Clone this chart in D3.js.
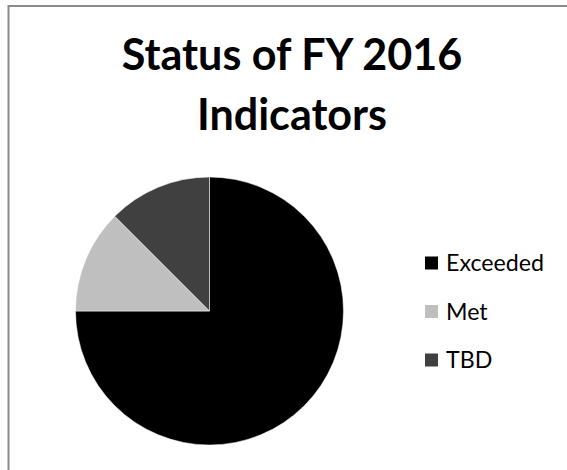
<!DOCTYPE html>
<html>
<head>
<meta charset="utf-8">
<script src="https://cdn.jsdelivr.net/npm/d3@7"></script>
<style>
  html, body { margin: 0; padding: 0; background: #fff; }
  svg { display: block; }
</style>
</head>
<body>
<svg id="chart" width="567" height="470"></svg>
<script>
const titleLines = ["Status of FY 2016", "Indicators"];
const categories = ["Exceeded", "Met", "TBD"];
const values = [75, 12.5, 12.5];
const colors = ["#000000", "#bfbfbf", "#404040"];

const svg = d3.select("#chart");
const W = 567, H = 470;
const FONT = "Lato, 'Open Sans', sans-serif";

svg.append("rect").attr("x", 0).attr("y", 0).attr("width", W).attr("height", H).attr("fill", "#fff");

// chart border (only top and left visible)
svg.append("path")
  .attr("d", "M8.5,470 V6 H567")
  .attr("fill", "none").attr("stroke", "#8a8a8a").attr("stroke-width", 2);

// title
const titleX = 292;
const titleBaselines = [70, 130];
const titleWidths = [339, 191];
const title = svg.append("g");
titleLines.forEach((t, i) => {
  const txt = title.append("text")
    .attr("x", titleX).attr("y", titleBaselines[i])
    .attr("text-anchor", "middle")
    .attr("font-family", FONT).attr("font-weight", "bold")
    .attr("font-size", 38).attr("fill", "#000")
    .text(t);
  const w = txt.node().getComputedTextLength();
  if (w > 0) txt.attr("font-size", 38 * titleWidths[i] / w);
});
// use a common size for both lines (average of fitted sizes)
const sizes = title.selectAll("text").nodes().map(n => +n.getAttribute("font-size"));
const common = d3.mean(sizes);
title.selectAll("text").attr("font-size", common);

// pie
const cx = 209.5, cy = 311, r = 134;
const color = d3.scaleOrdinal().domain(categories).range(colors);
const pie = d3.pie().sort(null).value(d => d.value);
const arc = d3.arc().innerRadius(0).outerRadius(r);
const data = categories.map((c, i) => ({ name: c, value: values[i] }));

svg.append("g").attr("transform", `translate(${cx},${cy})`)
  .selectAll("path").data(pie(data)).join("path")
  .attr("d", arc)
  .attr("fill", d => color(d.data.name))
  .attr("stroke", "#ffffff").attr("stroke-width", 0.5);

// legend
const legendY = d3.scalePoint().domain(categories).range([263, 360]);
const legend = svg.append("g");
const items = legend.selectAll("g").data(categories).join("g")
  .attr("transform", d => `translate(425,${legendY(d)})`);
items.append("rect")
  .attr("x", 0).attr("y", -6.5).attr("width", 13).attr("height", 13)
  .attr("fill", d => color(d));
const ltexts = items.append("text")
  .attr("x", 21).attr("y", 0).attr("dy", "0.35em")
  .attr("font-family", FONT).attr("font-size", 22).attr("fill", "#000")
  .text(d => d);
const exNode = ltexts.nodes()[0];
const ew = exNode.getComputedTextLength();
if (ew > 0) ltexts.attr("font-size", 22 * 98 / ew);
</script>
</body>
</html>
